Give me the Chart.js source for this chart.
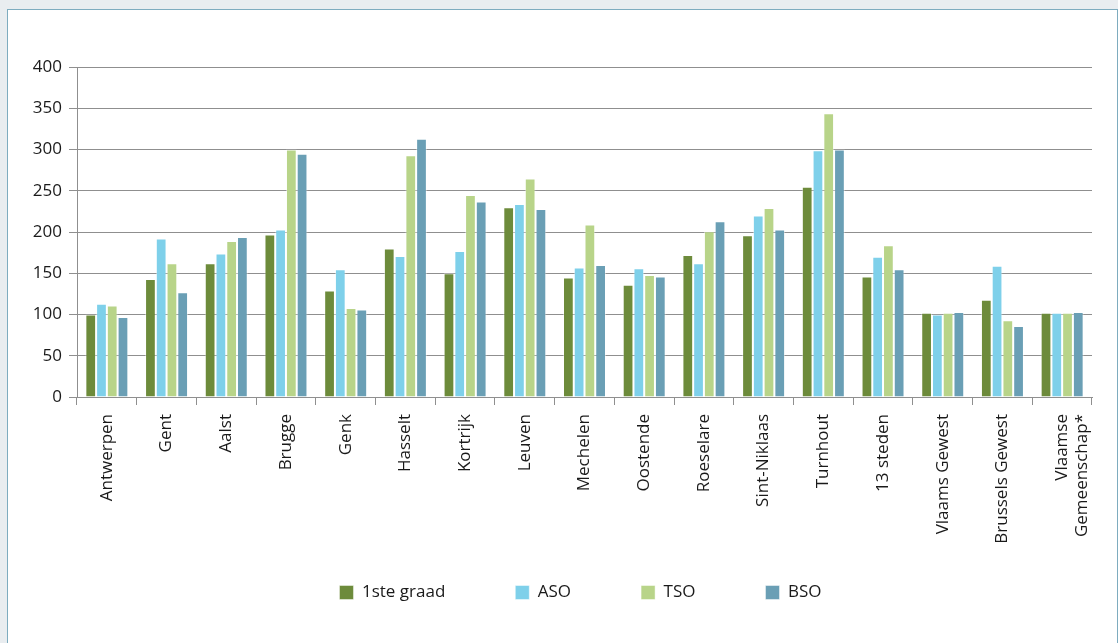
<!DOCTYPE html>
<html>
<head>
<meta charset="utf-8">
<script src="https://cdn.jsdelivr.net/npm/chart.js@4"></script>
<style>
  html, body { margin: 0; padding: 0; background: #e9edf0; }
  body { width: 1118px; height: 643px; position: relative; overflow: hidden; }
  #panel {
    position: absolute; left: 7px; top: 9px; width: 1109px; height: 700px;
    background: #fff; border: 1px solid #7eacbf;
  }
  #chart { position: absolute; left: 0; top: 0; }
</style>
</head>
<body>
<div id="panel"></div>
<canvas id="chart" width="1118" height="643"></canvas>
<script>
const cities = [
    "Antwerpen", "Gent", "Aalst", "Brugge", "Genk", "Hasselt", "Kortrijk", "Leuven",
    "Mechelen", "Oostende", "Roeselare", "Sint-Niklaas", "Turnhout", "13 steden",
    "Vlaams Gewest", "Brussels Gewest", ["Vlaamse", "Gemeenschap*"]
];

const eersteGraad = [100, 143, 162, 197, 129, 180, 150, 230, 145, 136, 172, 196, 255, 146, 102, 118, 102];
const aso = [113, 192, 174, 203, 155, 171, 177, 234, 157, 156, 162, 220, 299, 170, 100, 159, 102];
const tso = [111, 162, 189, 300, 108, 293, 245, 265, 209, 148, 201, 229, 344, 184, 102, 93, 102];
const bso = [97, 127, 194, 295, 106, 313, 237, 228, 160, 146, 213, 203, 300, 155, 103, 86, 103];

const textColor = "#1a1a1a";
const lineColor = "#8f8f8f";
const fontFamily = "'Open Sans', 'Noto Sans', sans-serif";

function bars(label, data, color) {
    return {
        label: label,
        data: data,
        backgroundColor: color,
        borderColor: "rgba(255,255,255,0.45)",
        borderWidth: 1,
        borderSkipped: "start",
        categoryPercentage: 0.72,
        barPercentage: 1.0,
    };
}

// nudge the legend row so it sits where the original one does
const legendShift = {
    id: "legendShift",
    afterLayout: function (chart) {
        const lg = chart.legend;
        lg.left += 21;
        lg.right += 21;
        lg.top -= 31;
        lg.bottom -= 31;
    },
};

var ctx = document.getElementById("chart").getContext("2d");

new Chart(ctx, {
    type: "bar",
    data: {
        labels: cities,
        datasets: [
            bars("1ste graad", eersteGraad, "#6d8b3b"),
            bars("ASO", aso, "#7ed0ea"),
            bars("TSO", tso, "#b8d489"),
            bars("BSO", bso, "#6a9fb5"),
        ],
    },
    plugins: [legendShift],
    options: {
        responsive: false,
        animation: false,
        layout: {
            padding: { top: 67, left: 27, right: 26, bottom: 1 },
        },
        plugins: {
            legend: {
                position: "bottom",
                labels: {
                    boxWidth: 14,
                    boxHeight: 14,
                    padding: 70,
                    color: textColor,
                    font: { size: 17, family: fontFamily },
                },
            },
            tooltip: { enabled: false },
        },
        scales: {
            y: {
                min: 0,
                max: 400,
                afterFit: function (scale) {
                    scale.width = 50;
                },
                grid: {
                    color: lineColor,
                    lineWidth: 1,
                    drawTicks: true,
                    tickLength: 8,
                },
                border: { display: true, color: lineColor },
                ticks: {
                    stepSize: 50,
                    padding: 7,
                    color: textColor,
                    font: { size: 17, family: fontFamily },
                },
            },
            x: {
                afterFit: function (scale) {
                    scale.height = 148;
                },
                grid: {
                    offset: true,
                    drawOnChartArea: false,
                    drawTicks: true,
                    tickLength: 8,
                    color: lineColor,
                },
                border: { display: true, color: lineColor },
                ticks: {
                    autoSkip: false,
                    maxRotation: 90,
                    minRotation: 90,
                    padding: 9,
                    color: textColor,
                    font: { size: 17, family: fontFamily },
                },
            },
        },
    },
});
</script>
</body>
</html>
